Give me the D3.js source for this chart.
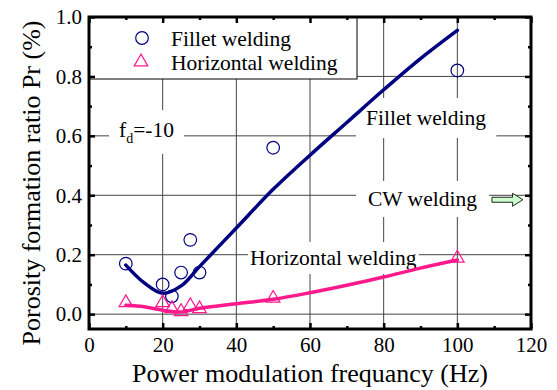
<!DOCTYPE html>
<html>
<head>
<meta charset="utf-8">
<script src="https://cdn.jsdelivr.net/npm/d3@7"></script>
<style>
  html, body { margin: 0; padding: 0; background: #fff; }
  svg text { font-family: "Liberation Serif", "Times New Roman", serif; fill: #000; }
</style>
</head>
<body>
<svg id="chart" width="557" height="390"></svg>
<script>
// Measured porosity ratios (Pr, %) versus power modulation frequency (Hz)
const filletFreq = [10, 20, 22.5, 25, 27.5, 30, 50, 100];
const filletPr   = [0.17, 0.10, 0.06, 0.14, 0.25, 0.14, 0.56, 0.82];
const horizFreq  = [10, 20, 22.5, 25, 27.5, 30, 50, 100];
const horizPr    = [0.035, 0.035, 0.015, 0.005, 0.025, 0.015, 0.05, 0.185];

// Fitted trend curves
const filletFitFreq = [10, 15, 20, 25, 30, 40, 50, 60, 70, 80, 90, 100];
const filletFitPr   = [0.165, 0.105, 0.07, 0.095, 0.16, 0.29, 0.42, 0.535, 0.645, 0.755, 0.86, 0.955];
const horizFitFreq  = [10, 15, 20, 25, 30, 40, 50, 60, 70, 80, 90, 100];
const horizFitPr    = [0.03, 0.025, 0.013, 0.007, 0.02, 0.035, 0.05, 0.072, 0.097, 0.125, 0.155, 0.182];

// Axis ticks
const xTicks = [0, 20, 40, 60, 80, 100, 120];
const xMinorTicks = [10, 30, 50, 70, 90, 110];
const yTicks = [0.0, 0.2, 0.4, 0.6, 0.8, 1.0];
const yMinorTicks = [0.1, 0.3, 0.5, 0.7, 0.9];
const xGrid = [20, 40, 60, 80, 100];
const yGrid = [0.0, 0.2, 0.4, 0.6, 0.8];

const navy = "#000080";
const pink = "#ff1a8c";
const serif = '"Liberation Serif", "Times New Roman", serif';

const svg = d3.select("#chart");
const plotL = 89, plotR = 531, plotT = 17, plotB = 329;

const x = d3.scaleLinear().domain([0, 120]).range([plotL, plotR]);
const y = d3.scaleLinear().domain([-0.05, 1.0]).range([plotB, plotT]);

// Grid
const grid = svg.append("g").attr("stroke", "#444").attr("stroke-width", 1);
grid.selectAll("line.v").data(xGrid).join("line").attr("class", "v")
  .attr("x1", d => x(d)).attr("x2", d => x(d))
  .attr("y1", plotT).attr("y2", plotB);
grid.selectAll("line.h").data(yGrid).join("line").attr("class", "h")
  .attr("x1", plotL).attr("x2", plotR)
  .attr("y1", d => y(d)).attr("y2", d => y(d));

// Text annotation with white backing that masks the grid
function note(parent, px, py, build, pad) {
  const g = parent.append("g");
  const bg = g.append("rect").attr("fill", "#fff");
  const t = g.append("text").attr("x", px).attr("y", py).attr("font-size", 21.5);
  build(t);
  const b = t.node().getBBox();
  bg.attr("x", b.x - pad[0]).attr("y", b.y - pad[1])
    .attr("width", b.width + 2 * pad[0]).attr("height", b.height + 2 * pad[1]);
  return g;
}

const notes = svg.append("g");
note(notes, 119, 137, t => {
  t.append("tspan").text("f");
  t.append("tspan").attr("font-size", 14).attr("dy", 6).text("d");
  t.append("tspan").attr("dy", -6).text("=-10");
}, [10, 8]);
note(notes, 366, 125, t => t.text("Fillet welding"), [10, 8]);
note(notes, 368, 206, t => t.text("CW welding"), [12, 6]);
note(notes, 250, 265, t => t.text("Horizontal welding"), [2, 4]);

// Block arrow pointing to the CW reference
const ax0 = x(109.4), ax1 = x(115), ax2 = x(117.8), ay = y(0.385);
svg.append("path")
  .attr("d", `M${ax0},${ay - 2.5}L${ax1},${ay - 2.5}L${ax1},${ay - 6.5}L${ax2},${ay}L${ax1},${ay + 6.5}L${ax1},${ay + 2.5}L${ax0},${ay + 2.5}Z`)
  .attr("fill", "#ccffcc").attr("stroke", "#222").attr("stroke-width", 1);

// Fitted curves
const line = d3.line().x(d => x(d[0])).y(d => y(d[1])).curve(d3.curveCatmullRom.alpha(0.5));
svg.append("path").datum(d3.zip(filletFitFreq, filletFitPr))
  .attr("d", line).attr("fill", "none").attr("stroke", navy).attr("stroke-width", 3.5)
  .attr("stroke-linecap", "round");
svg.append("path").datum(d3.zip(horizFitFreq, horizFitPr))
  .attr("d", line).attr("fill", "none").attr("stroke", pink).attr("stroke-width", 3.5)
  .attr("stroke-linecap", "round");

// Markers
const tri = d3.symbol().type(d3.symbolTriangle).size(80);
svg.append("g").selectAll("circle").data(d3.zip(filletFreq, filletPr)).join("circle")
  .attr("cx", d => x(d[0])).attr("cy", d => y(d[1])).attr("r", 6.3)
  .attr("fill", "none").attr("stroke", navy).attr("stroke-width", 1.2);
svg.append("g").selectAll("path").data(d3.zip(horizFreq, horizPr)).join("path")
  .attr("d", tri).attr("transform", d => `translate(${x(d[0])},${y(d[1]) - 1})`)
  .attr("fill", "none").attr("stroke", pink).attr("stroke-width", 1.2);

// Legend
const lg = svg.append("g");
lg.append("rect").attr("x", plotL).attr("y", plotT).attr("width", 357 - plotL).attr("height", 79 - plotT)
  .attr("fill", "#fff").attr("stroke", "#000").attr("stroke-width", 1);
lg.append("circle").attr("cx", 142).attr("cy", 38).attr("r", 6.3)
  .attr("fill", "none").attr("stroke", navy).attr("stroke-width", 1.2);
lg.append("path").attr("d", tri).attr("transform", "translate(141,62)")
  .attr("fill", "none").attr("stroke", pink).attr("stroke-width", 1.2);
lg.append("text").attr("x", 171).attr("y", 46).attr("font-size", 21.5).text("Fillet welding");
lg.append("text").attr("x", 171).attr("y", 70).attr("font-size", 21.5).text("Horizontal welding");

// Axes with inward ticks on all four sides
function styleAxis(g) {
  g.attr("font-family", null).attr("font-size", null);
  g.select(".domain").remove();
  g.selectAll(".tick line").attr("stroke", "#000").attr("stroke-width", 2.5);
  g.selectAll(".tick text").style("font-family", serif).style("font-size", "21px").attr("fill", "#000");
}
svg.append("g").attr("transform", `translate(0,${plotB})`)
  .call(d3.axisBottom(x).tickValues(xTicks).tickFormat(d3.format("d")).tickSizeInner(-6).tickSizeOuter(0).tickPadding(8))
  .call(styleAxis);
svg.append("g").attr("transform", `translate(0,${plotB})`)
  .call(d3.axisBottom(x).tickValues(xMinorTicks).tickFormat("").tickSizeInner(-3).tickSizeOuter(0))
  .call(styleAxis);
svg.append("g").attr("transform", `translate(0,${plotT})`)
  .call(d3.axisTop(x).tickValues(xTicks).tickFormat("").tickSizeInner(-6).tickSizeOuter(0))
  .call(styleAxis);
svg.append("g").attr("transform", `translate(0,${plotT})`)
  .call(d3.axisTop(x).tickValues(xMinorTicks).tickFormat("").tickSizeInner(-3).tickSizeOuter(0))
  .call(styleAxis);
svg.append("g").attr("transform", `translate(${plotL},0)`)
  .call(d3.axisLeft(y).tickValues(yTicks).tickFormat(d3.format(".1f")).tickSizeInner(-6).tickSizeOuter(0).tickPadding(7))
  .call(styleAxis);
svg.append("g").attr("transform", `translate(${plotL},0)`)
  .call(d3.axisLeft(y).tickValues(yMinorTicks).tickFormat("").tickSizeInner(-3).tickSizeOuter(0))
  .call(styleAxis);
svg.append("g").attr("transform", `translate(${plotR},0)`)
  .call(d3.axisRight(y).tickValues(yTicks).tickFormat("").tickSizeInner(-6).tickSizeOuter(0))
  .call(styleAxis);
svg.append("g").attr("transform", `translate(${plotR},0)`)
  .call(d3.axisRight(y).tickValues(yMinorTicks).tickFormat("").tickSizeInner(-3).tickSizeOuter(0))
  .call(styleAxis);

// Frame
svg.append("rect").attr("x", plotL).attr("y", plotT).attr("width", plotR - plotL).attr("height", plotB - plotT)
  .attr("fill", "none").attr("stroke", "#000").attr("stroke-width", 3);

// Axis titles
svg.append("text").attr("x", (plotL + plotR) / 2).attr("y", 382).attr("text-anchor", "middle")
  .attr("font-size", 26).text("Power modulation frequancy (Hz)");
svg.append("text").attr("transform", "translate(40,183) rotate(-90)").attr("text-anchor", "middle")
  .attr("font-size", 26).text("Porosity formation ratio Pr (%)");
</script>
</body>
</html>
